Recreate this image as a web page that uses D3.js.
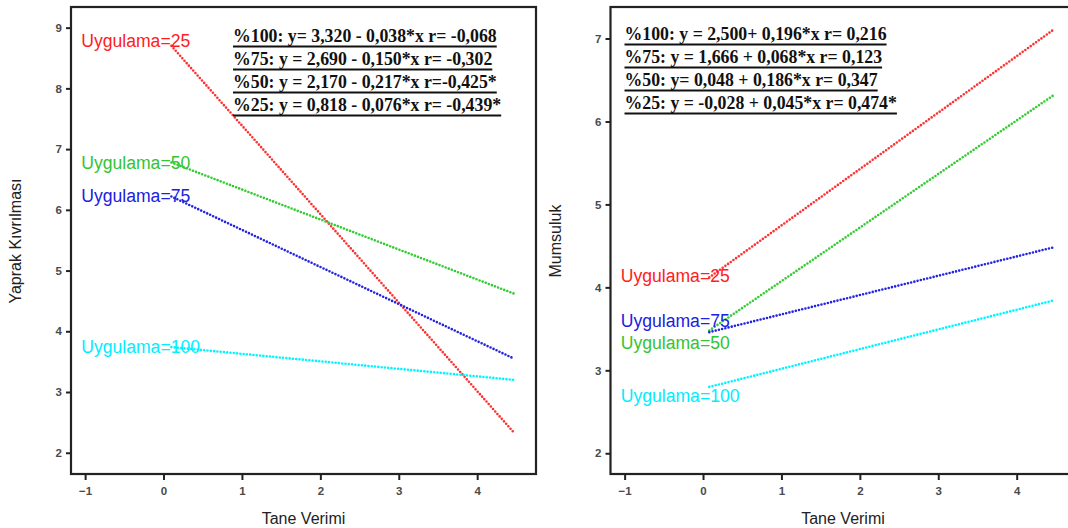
<!DOCTYPE html>
<html>
<head>
<meta charset="utf-8">
<title>Tane Verimi</title>
<script src="https://d3js.org/d3.v7.min.js"></script>
<style>
  html, body { margin: 0; padding: 0; background: #fff; }
  svg { display: block; }
  .tick text { font-family: "Liberation Sans", Arial, sans-serif; font-size: 11.5px; font-weight: bold; fill: #4a4a4a; }
  .tick line { stroke: #222; stroke-width: 2px; }
  .lbl { font-family: "Liberation Sans", Arial, sans-serif; font-size: 17.6px; }
  .eq { font-family: "Liberation Serif", "Times New Roman", serif; font-size: 17.8px; font-weight: bold; fill: #111; }
  .ttl { font-family: "Liberation Sans", Arial, sans-serif; font-size: 16px; fill: #222; }
</style>
</head>
<body>
<script>
// groups (Uygulama) and their colours
let groups = ["25", "50", "75", "100"];
let lineColors = ["#ff3030", "#33cc33", "#2525e0", "#00f5ff"];
let textColors = ["#ff2020", "#33c433", "#2020e0", "#00eeff"];

// left panel: Yaprak Kivrilmasi
let leftX = [0.1, 4.47];
let leftStartY = [8.70, 6.78, 6.22, 3.74];
let leftEndY = [2.33, 4.62, 3.55, 3.20];
let leftLabelY = [8.79, 6.78, 6.24, 3.74];
let leftYTicks = [2, 3, 4, 5, 6, 7, 8, 9];
let leftEq = [
  "%100: y= 3,320 - 0,038*x r= -0,068",
  "%75: y = 2,690 - 0,150*x r= -0,302",
  "%50: y = 2,170 - 0,217*x r=-0,425*",
  "%25: y = 0,818 - 0,076*x r= -0,439*"
];

// right panel: Mumsuluk
let rightX = [0.08, 4.46];
let rightStartY = [4.12, 3.48, 3.46, 2.80];
let rightEndY = [7.10, 6.31, 4.48, 3.84];
let rightLabelY = [4.14, 3.335, 3.595, 2.70];
let rightYTicks = [2, 3, 4, 5, 6, 7];
let rightEq = [
  "%100: y = 2,500+ 0,196*x r= 0,216",
  "%75: y = 1,666 + 0,068*x r= 0,123",
  "%50: y= 0,048 + 0,186*x r= 0,347",
  "%25: y = -0,028 + 0,045*x r= 0,474*"
];

let xTicks = [-1, 0, 1, 2, 3, 4];

let svg = d3.select("body").append("svg")
  .attr("width", 1068).attr("height", 528);

function panel(opt) {
  let w = 465, top = 7, bottom = 474;
  let g = svg.append("g").attr("transform", "translate(" + opt.left + ",0)");

  let x = d3.scaleLinear().domain([-1.18, 4.75]).range([0, w]);
  let y = d3.scaleLinear().domain(opt.yDomain).range([bottom, top]);

  g.append("rect")
    .attr("x", 0).attr("y", top).attr("width", w).attr("height", bottom - top)
    .attr("fill", "none").attr("stroke", "#222").attr("stroke-width", 2.2);

  g.append("g").attr("transform", "translate(0," + bottom + ")")
    .call(d3.axisBottom(x).tickValues(xTicks).tickSize(6).tickPadding(7).tickFormat(d3.format("d")))
    .call(a => a.select(".domain").remove());

  g.append("g")
    .call(d3.axisLeft(y).tickValues(opt.yTicks).tickSize(5).tickPadding(4).tickFormat(d3.format("d")))
    .call(a => a.select(".domain").remove());

  // fitted lines, dotted
  let line = d3.line().x(d => x(d[0])).y(d => y(d[1]));
  groups.forEach(function(k, i) {
    let pts = [[opt.xs[0], opt.startY[i]], [opt.xs[1], opt.endY[i]]];
    g.append("path")
      .attr("d", line(pts))
      .attr("fill", "none")
      .attr("stroke", lineColors[i])
      .attr("stroke-width", 2.6)
      .attr("stroke-linecap", "round")
      .attr("stroke-dasharray", "0,3.3");
  });

  // group labels
  groups.forEach(function(k, i) {
    g.append("text").attr("class", "lbl")
      .attr("x", x(-1.05)).attr("y", y(opt.labelY[i]))
      .attr("dy", "0.36em")
      .attr("fill", textColors[i])
      .text("Uygulama=" + k);
  });

  // regression equations, underlined
  opt.eq.forEach(function(s, i) {
    let t = g.append("text").attr("class", "eq")
      .attr("x", opt.eqX).attr("y", opt.eqY + i * 23)
      .text(s);
    let len = t.node().getComputedTextLength();
    g.append("line")
      .attr("x1", opt.eqX).attr("x2", opt.eqX + len)
      .attr("y1", opt.eqY + i * 23 + 4.5).attr("y2", opt.eqY + i * 23 + 4.5)
      .attr("stroke", "#111").attr("stroke-width", 1.8);
  });

  // titles
  g.append("text").attr("class", "ttl")
    .attr("x", w / 2).attr("y", 524)
    .attr("text-anchor", "middle")
    .text("Tane Verimi");
  g.append("text").attr("class", "ttl")
    .attr("transform", "translate(" + opt.yTitleX + ",241) rotate(-90)")
    .attr("text-anchor", "middle")
    .text(opt.yTitle);
}

panel({
  left: 71, yDomain: [1.65, 9.34], yTicks: leftYTicks,
  xs: leftX, startY: leftStartY, endY: leftEndY, labelY: leftLabelY,
  eq: leftEq, eqX: 162, eqY: 42,
  yTitle: "Yaprak Kıvrılması", yTitleX: -50
});

panel({
  left: 610.5, yDomain: [1.75, 7.38], yTicks: rightYTicks,
  xs: rightX, startY: rightStartY, endY: rightEndY, labelY: rightLabelY,
  eq: rightEq, eqX: 14, eqY: 40,
  yTitle: "Mumsuluk", yTitleX: -50
});
</script>
</body>
</html>
